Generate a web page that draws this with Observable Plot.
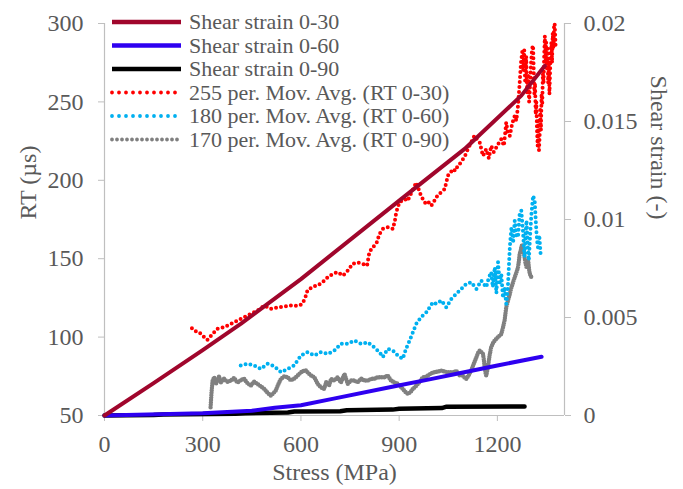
<!DOCTYPE html>
<html><head><meta charset="utf-8">
<script src="https://cdn.jsdelivr.net/npm/d3@7"></script>
<script src="https://cdn.jsdelivr.net/npm/@observablehq/plot@0.6"></script>
<style>
body{margin:0;background:#fff;}
#chart{width:683px;height:489px;}
</style></head><body><div id="chart"></div>
<script>
// ---- axis ticks ----
const xTicks = [0, 300, 600, 900, 1200];
const rtTicks = [50, 100, 150, 200, 250, 300];
const strainTicks = [0, 0.005, 0.01, 0.015, 0.02];
const xMax = 1405;

// ---- shear strain series (right axis) ----
const ss030Stress = [0, 150, 300, 416, 600, 906, 1100, 1273, 1345];
const ss030Strain = [0, 0.00165, 0.00334, 0.00467, 0.00696, 0.01104, 0.0136, 0.01632, 0.01784];

const ss060Stress = [0, 100, 300, 450, 520, 600, 700, 875, 1000, 1080, 1200, 1335];
const ss060Strain = [0, 0.00004, 0.00012, 0.00024, 0.0004, 0.00052, 0.00086, 0.00145, 0.00187, 0.00214, 0.00255, 0.003];

const ss090Stress = [0, 150, 180, 400, 430, 560, 580, 720, 740, 880, 900, 1030, 1045, 1283];
const ss090Strain = [0, 0.00003, 0.00005, 0.00009, 0.00012, 0.00015, 0.0002, 0.00022, 0.00027, 0.0003, 0.00034, 0.00038, 0.00045, 0.00046];

// ---- moving averages of RT (left axis) ----
const ma030Stress = [267,273,289,299,314,330,345,365,386,406,426,447,467,488,508,529,549,569,590,603,612,620,636,651,666,682,697,712,728,743,758,773,789,802,809,819,830,840,850,865,881,888,891,901,916,926,935,944,952,960,967,975,982,990,998,1005,1013,1020,1028,1039,1049,1057,1064,1072,1079,1087,1095,1102,1110,1120,1130,1138,1146,1156,1166,1174,1181,1189,1197,1205,1212,1220,1227,1232,1238,1245,1253,1258,1263,1268,1272,1276,1279,1282,1285,1288,1291,1294,1297,1300,1303,1306,1309,1311,1313,1315,1317,1319,1321,1323,1325,1327,1329,1331,1333,1335,1337,1339,1341,1343,1345,1347,1349,1351,1353,1355,1357,1359,1361,1363,1365,1367,1369,1371,1373,1375,1377,1378];
const ma030RT = [105.6,104.2,103.1,101,98.2,102,105.3,106.3,108.4,110.5,112.6,114.8,116.9,120.1,118,119,119.5,120.1,120,121,124.4,129.7,132.2,132.9,135,138.2,140.3,141.4,139.2,142.4,146.7,147.7,146.7,145.6,154.1,157.3,159.4,165.8,169,170.1,169,175.4,179.6,186,188.1,187,191,195,198.6,194,190,187,184.8,186,183.8,186,189,191,192.3,194.4,203,205,207.2,206,209.3,211,213.5,216,219.9,224.2,228.4,226,224.2,215.6,219.9,214,222,218,221,224,226.3,222,236.9,230,228.4,236,241.2,238,247.5,262,275,282,270,283,262,279,255,268,250,262,275,284,286,270,255,262,242,250,232,222,238,219,228,245,232,255,248,268,262,280,292,276,288,270,284,262,276,255,270,282,288,275,294,285,298,300,290,284];

const ma060Stress = [416,437,457,477,498,518,539,559,579,600,620,641,661,682,702,722,743,763,784,804,824,840,850,865,881,896,911,921,932,942,952,967,983,993,1003,1013,1029,1044,1059,1074,1090,1105,1120,1136,1151,1166,1174,1181,1186,1192,1197,1202,1207,1212,1217,1222,1227,1232,1238,1243,1248,1253,1258,1263,1268,1273,1278,1283,1286,1289,1292,1296,1300,1304,1309,1314,1317,1319,1322,1324,1328,1332];
const ma060RT = [81.9,83,81.9,79.7,83,81.4,77.6,79.7,81.9,88.2,90.4,88.2,90.4,89.3,91.4,95.7,95.7,97.8,95.7,96.7,93.5,90.3,87.2,92.5,91.4,88.2,86.1,92.5,97.8,103.1,108.4,112.7,115.8,119,122.2,121.2,123.3,119,124.3,127.5,130.7,134,135,130.7,136,131.8,138,141.4,132,144.5,128,147.7,135,140.3,125,131.8,121.2,131.8,157.3,170.1,160,174.3,165,163.7,178.6,180.7,167.9,151,165,174.3,160,148.8,165,178.6,190.2,187,175,167.9,160,157.3,165,153];

const ma090Stress = [324,327,330,335,340,345,350,355,365,375,386,396,406,416,426,437,447,457,467,478,488,498,508,515,523,531,539,549,559,569,579,590,600,608,615,620,631,641,651,661,671,677,686,692,702,712,722,733,743,753,763,773,784,794,804,814,824,835,845,855,865,875,886,896,904,911,919,927,935,942,950,957,965,972,980,988,998,1008,1018,1029,1039,1049,1059,1069,1074,1085,1090,1098,1105,1112,1120,1128,1136,1141,1146,1151,1156,1159,1161,1164,1166,1168,1171,1176,1181,1186,1192,1197,1202,1207,1212,1217,1222,1227,1232,1238,1243,1248,1253,1258,1263,1266,1268,1271,1273,1276,1278,1281,1283,1286,1289,1291,1294,1297,1299,1302,1304];
const ma090RT = [55.3,65,72,74.4,70,72.3,75,71,73.5,71.5,72.3,74,71,72.5,73.5,70.5,69.1,71.5,70.2,68.5,67,64.5,62.7,64,65.9,70,73.4,75,74.4,72.5,73.4,75.5,77.6,78.4,78.7,77.6,75.5,74.4,70.2,68,67,71.2,69.1,73.3,72.3,74.4,71,76.5,70.2,72.3,72.3,71.2,73.5,72.3,72.3,73.3,73.5,74.4,74.4,74.4,75.5,72.3,71,70.2,68.5,67,65,63.8,65,67,68.5,70.2,72,74.4,74.5,75.5,77,77.6,78,78.6,78,77.6,77.6,77.6,78.7,75.5,76.5,74.5,73.4,75.5,78.7,83,87.2,90,91.4,90.5,89.3,85,80.8,77,75.5,77.5,80.8,88,93.5,96,97.8,99,100,101,102,106,110.6,119,123,127.5,131.8,135,138.2,141,144.5,149,153,155,157.3,159,158.4,154,151,147,144.5,147,148.8,143,140.3,139,138.2];

// ---- legend ----
const legendLabels = ["Shear strain 0-30", "Shear strain 0-60", "Shear strain 0-90",
  "255 per. Mov. Avg. (RT 0-30)", "180 per. Mov. Avg. (RT 0-60)", "170 per. Mov. Avg. (RT 0-90)"];
const colors = ["#a0062c", "#2e00f0", "#000000", "#ff0000", "#00b0f0", "#808080"];

// ---- build ----
const toRT = s => 50 + s * (300 - 50) / 0.02;
const strainTable = (xs, vs) => xs.map((x, i) => ({x, y: toRT(vs[i])}));
const rtTable = (xs, vs) => xs.map((x, i) => ({x, y: vs[i]}));

const serif = "'Liberation Serif', 'Times New Roman', serif";
const grey = "#595959";
const axisStroke = "#bfbfbf";

const plot = Plot.plot({
  width: 683, height: 489,
  marginLeft: 104, marginRight: 119, marginTop: 23, marginBottom: 74,
  style: `font-family: ${serif}; font-size: 24px; color: ${grey}; background: #fff;`,
  x: {domain: [0, xMax]},
  y: {domain: [50, 300]},
  marks: [
    Plot.ruleX([0, xMax], {stroke: axisStroke, strokeWidth: 1.2}),
    Plot.ruleY([50], {stroke: axisStroke, strokeWidth: 1.2}),
    Plot.axisX({ticks: xTicks, tickSize: 6, tickPadding: 13, label: null, stroke: axisStroke, tickFormat: d => String(d)}),
    Plot.axisY({anchor: "left", ticks: rtTicks, tickSize: 6, tickPadding: 15, label: null, stroke: axisStroke}),
    Plot.axisY({anchor: "right", ticks: strainTicks.map(toRT), tickSize: 6, tickPadding: 13, label: null, stroke: axisStroke,
      tickFormat: d => String(strainTicks[strainTicks.map(toRT).indexOf(d)] ?? "")}),
    Plot.text(["Stress (MPa)"], {frameAnchor: "bottom", dy: 64, fontSize: 24, fill: grey}),
    Plot.text(["RT (µs)"], {frameAnchor: "left", dx: -76, rotate: -90, fontSize: 24, fill: grey}),
    Plot.text(["Shear strain (-)"], {frameAnchor: "right", dx: 94, rotate: 90, fontSize: 24, fill: grey}),
    // moving averages
    Plot.line(rtTable(ma090Stress, ma090RT), {x: "x", y: "y", stroke: colors[5], strokeWidth: 4.4, strokeDasharray: "0 2.4", strokeLinecap: "round", strokeLinejoin: "round"}),
    Plot.line(rtTable(ma060Stress, ma060RT), {x: "x", y: "y", stroke: colors[4], strokeWidth: 4, strokeDasharray: "0 5", strokeLinecap: "round"}),
    Plot.line(rtTable(ma030Stress, ma030RT), {x: "x", y: "y", stroke: colors[3], strokeWidth: 4, strokeDasharray: "0 5", strokeLinecap: "round"}),
    // shear strain lines
    Plot.line(strainTable(ss090Stress, ss090Strain), {x: "x", y: "y", stroke: colors[2], strokeWidth: 4.5}),
    Plot.line(strainTable(ss060Stress, ss060Strain), {x: "x", y: "y", stroke: colors[1], strokeWidth: 4}),
    Plot.line(strainTable(ss030Stress, ss030Strain), {x: "x", y: "y", stroke: colors[0], strokeWidth: 4})
  ]
});

// legend inside plot area (top-left)
const svg = d3.select(plot);
const lg = svg.append("g").style("font-family", serif).style("font-size", "22px")
  .attr("fill", grey).attr("text-anchor", "start");
legendLabels.forEach((lab, i) => {
  const y = 22 + i * 23.5;
  const dotted = i >= 3;
  lg.append("line").attr("x1", 112).attr("x2", 181).attr("y1", y).attr("y2", y)
    .attr("stroke", colors[i]).attr("stroke-width", dotted ? 3.8 : 4.5)
    .attr("stroke-linecap", dotted ? "round" : "butt")
    .attr("stroke-dasharray", dotted ? (i === 5 ? "0 5" : "0 7") : null);
  lg.append("text").attr("x", 189).attr("y", y).attr("dy", "0.34em").text(lab);
});

document.getElementById("chart").appendChild(plot);
</script>
</body></html>
